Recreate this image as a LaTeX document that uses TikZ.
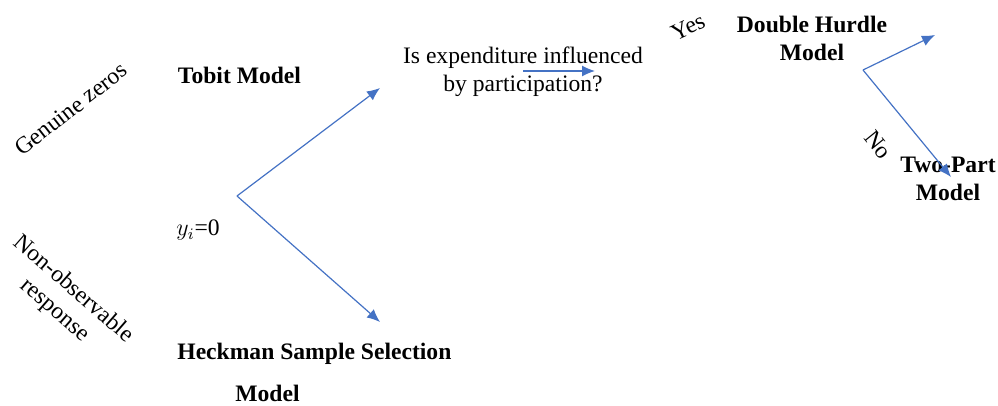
\documentclass[tikz,border=0pt]{standalone}
\usepackage{fontspec}
\setmainfont{Liberation Serif}
\usepackage{amsmath}
\usetikzlibrary{arrows.meta}
\definecolor{arrowblue}{HTML}{4472C4}

\begin{document}
\begin{tikzpicture}[x=0.5pt,y=-0.5pt,inner sep=0pt,
		font=\fontsize{11.8}{14}\selectfont]
		\tikzstyle{flow}=[color=arrowblue,line width=0.6pt,-{Latex[length=6.5pt,width=5.5pt]}]
		\tikzstyle{model}=[font=\fontsize{11.8}{14}\selectfont\bfseries,align=center]
		\useasboundingbox (0,0) rectangle (998,406);
		
		\node[rotate=38] (genuine) at (71,109) {Genuine zeros};
		\node[rotate=-41,align=center] (nonobs) at (64,300) {Non-observable\\response};
		
		\node[model] (tobit) at (239.5,75) {Tobit Model};
		\node[model,anchor=west] (heckman) at (177,354) {Heckman Sample Selection};
		\node[model] (heckmodel) at (267.5,393) {Model};
		\node (yzero) at (198,230) {$y_i$=0};
		
		\node[align=center] (question) at (523,72) {Is expenditure influenced\\by participation?};
		\node[rotate=25] (yes) at (688,27) {Yes};
		\node[rotate=-51] (no) at (878,145) {No};
		\node[model] (hurdle) at (812,38) {Double Hurdle\\Model};
		\node[model] (twopart) at (948,179) {Two-Part\\Model};
		
		\coordinate (fork) at (237,196);
		\coordinate (upper) at (380,88);
		\coordinate (lower) at (380,322);
		\coordinate (qstart) at (523,71);
		\coordinate (qend) at (595,71);
		\coordinate (fork2) at (863,70);
		\coordinate (yestip) at (935,35);
		\coordinate (notip) at (951,177);
		
		\path[flow]
		(fork) edge (upper)
		edge (lower)
		(qstart) edge (qend)
		(fork2) edge (yestip)
		edge (notip);
		
	\end{tikzpicture}
\end{document}
